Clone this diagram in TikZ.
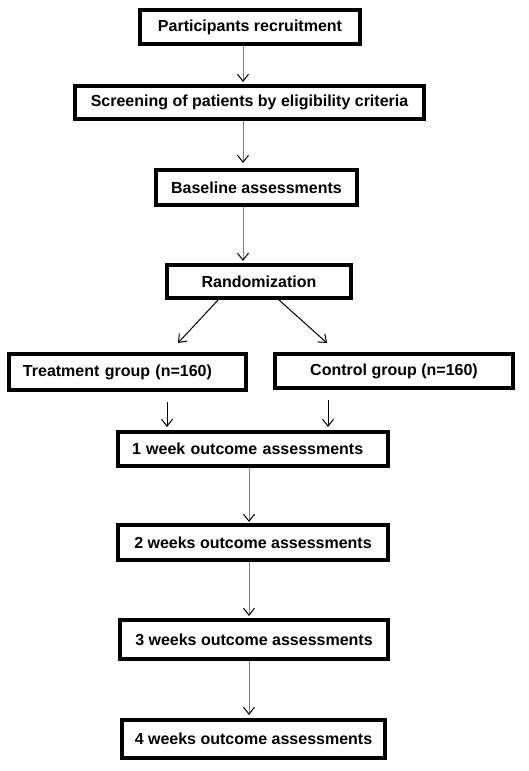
\documentclass[tikz,border=0pt]{standalone}
\usepackage{fontspec}
\setmainfont{Liberation Sans}
\usetikzlibrary{arrows.meta}

\begin{document}
\begin{tikzpicture}[x=1pt,y=-1pt]
                \useasboundingbox (0,0) rectangle (529,771);
                \begin{scope}[every node/.style={draw, line width=4pt, inner sep=0pt, font=\fontsize{16}{19}\selectfont\bfseries}]
                        \node[minimum width=220pt, minimum height=34pt] (P) at (250,27) {Participants recruitment};
                        \node[minimum width=349pt, minimum height=33pt] (S) at (249.5,102.5) {Screening of patients by eligibility criteria};
                        \node[minimum width=201pt, minimum height=35pt] (B) at (256.5,187.5) {Baseline assessments};
                        \node[minimum width=184pt, minimum height=33pt] (R) at (259,281.5) {Randomization};
                        \node[minimum height=36pt, inner xsep=14pt, text width=209pt, align=left] (T) at (127.5,372) {Treatment group (n=160)};
                        \node[minimum width=238pt, minimum height=34pt] (C) at (394,371) {Control group (n=160)};
                        \node[minimum height=34pt, inner xsep=14pt, text width=242pt, align=left] (W1) at (253,449) {1 week outcome assessments};
                        \node[minimum width=270pt, minimum height=35pt] (W2) at (253,542.5) {2 weeks outcome assessments};
                        \node[minimum width=268pt, minimum height=39pt] (W3) at (254,639.5) {3 weeks outcome assessments};
                        \node[minimum width=263pt, minimum height=38pt] (W4) at (253.5,739) {4 weeks outcome assessments};
                \end{scope}
                \begin{scope}[every path/.style={line width=1pt, ->, >={Straight Barb[length=7pt,width=11pt,color=black]}}]
                        % long grey arrows
                        \begin{scope}[gray]
                                \draw[shorten >=2pt] ([xshift=-7pt]P.south) -- ([xshift=-7pt]P.south |- S.north);
                                \draw[shorten >=5pt] ([xshift=-6.5pt]S.south) -- ([xshift=-6.5pt]S.south |- B.north);
                                \draw[shorten >=2pt] ([xshift=-13.5pt]B.south) -- ([xshift=-13.5pt]B.south |- R.north);
                                \draw[shorten >=1pt] ([xshift=-4pt]W1.south) -- ([xshift=-4pt]W1.south |- W2.north);
                                \draw[shorten >=2pt] ([xshift=-4pt]W2.south) -- ([xshift=-4pt]W2.south |- W3.north);
                                \draw[shorten >=3pt] ([xshift=-5pt]W3.south) -- ([xshift=-5pt]W3.south |- W4.north);
                        \end{scope}
                        % randomization
                        \draw ([xshift=-41pt]R.south) -- ([xshift=50.5pt,yshift=9pt]T.north);
                        \draw ([xshift=20pt]R.south) -- ([xshift=-67pt,yshift=9pt]C.north);
                        % groups to first follow-up
                        \draw[shorten <=10pt, shorten >=3pt] ([xshift=39.5pt]T.south) -- ([xshift=39.5pt]T.south |- W1.north);
                        \draw[shorten <=10pt, shorten >=3pt] ([xshift=-66pt]C.south) -- ([xshift=-66pt]C.south |- W1.north);
                \end{scope}
\end{tikzpicture}
\end{document}
